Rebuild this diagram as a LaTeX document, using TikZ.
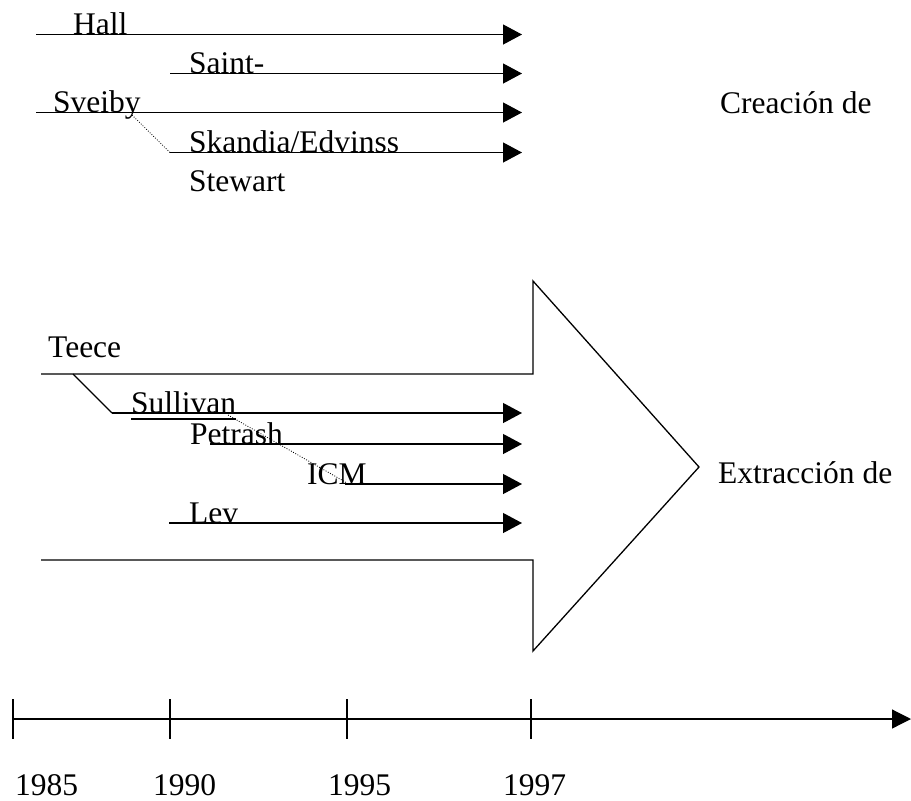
\documentclass[tikz,border=0pt]{standalone}
\usepackage{fontspec}
\setmainfont{Liberation Serif}
\usetikzlibrary{arrows.meta}
\begin{document}
\begin{tikzpicture}[x=1pt,y=-1pt,
  lbl/.style={anchor=base west,inner sep=0pt,font=\fontsize{31.5}{36}\selectfont},
  tl/.style={line width=1.2pt},
  tarrow/.style={line width=1.2pt,-{Triangle[length=19pt,width=20pt]}},
  dots/.style={line width=0.8pt,dash pattern=on 0.9pt off 1.6pt},
  bigarrow/.style={line width=1.3pt,line join=miter}]
\useasboundingbox (0,0) rectangle (911,801);
% top group
\node[lbl] (hall) at (73,34.5) {Hall};
\node[lbl] (saint) at (189,73.5) {Saint-};
\node[lbl] (sveiby) at (53,112.5) {Sveiby};
\node[lbl] (skandia) at (189,152.5) {Skandia/Edvinss};
\node[lbl] (stewart) at (189,191) {Stewart};
\node[lbl] (creacion) at (720,113) {Creación de};
\coordinate (h0) at (36,34.5);   \coordinate (h1) at (522,34.5);
\coordinate (s0) at (170,73.5);  \coordinate (s1) at (522,73.5);
\coordinate (v0) at (36,112.5);  \coordinate (v1) at (522,112.5);
\coordinate (k0) at (170,152.5); \coordinate (k1) at (522,152.5);
\coordinate (vd) at (132,115);
\draw[tarrow] (h0) -- (h1);
\draw[tarrow] (s0) -- (s1);
\draw[tarrow] (v0) -- (v1);
\draw[tarrow] (k0) -- (k1);
\draw[dots] (vd) -- (k0);
% big arrow
\coordinate (a1) at (41,374);
\coordinate (a2) at (533,374);
\coordinate (a3) at (533,281);
\coordinate (a4) at (699,467);
\coordinate (a5) at (533,651);
\coordinate (a6) at (533,560);
\coordinate (a7) at (41,560);
\draw[bigarrow] (a1) -- (a2) -- (a3) -- (a4) -- (a5) -- (a6) -- (a7);
\node[lbl] (teece) at (48,357) {Teece};
\node[lbl] (sullivan) at (131,413) {Sullivan};
\node[lbl] (petrash) at (190,444) {Petrash};
\node[lbl] (icm) at (307,484) {ICM};
\node[lbl] (lev) at (189,523) {Lev};
\node[lbl] (extraccion) at (718,483) {Extracción de};
\coordinate (t0) at (73,374);
\coordinate (t1) at (112,413);
\coordinate (u1) at (522,413);
\coordinate (p0) at (210,444); \coordinate (p1) at (522,444);
\coordinate (i0) at (345,484); \coordinate (i1) at (522,484);
\coordinate (l0) at (169,523); \coordinate (l1) at (522,523);
\coordinate (sd) at (228,415);
\coordinate (id) at (347,483);
\draw[tl] (t0) -- (t1);
\draw[tarrow] (t1) -- (u1);
\draw[tarrow] (p0) -- (p1);
\draw[tarrow] (i0) -- (i1);
\draw[tarrow] (l0) -- (l1);
\draw[line width=2pt] ([yshift=-6pt]sullivan.base west) -- ([yshift=-6pt]sullivan.base east);
\draw[dots] (sd) -- (id);
% axis
\coordinate (x0) at (13,719);
\coordinate (x1) at (911,719);
\draw[line width=1.2pt,-{Triangle[length=19pt,width=19pt]}] (x0) -- (x1);
\foreach \n/\x in {t85/13,t90/170,t95/347,t97/531}{
  \coordinate (\n a) at (\x,699);
  \coordinate (\n b) at (\x,739);
  \draw[tl] (\n a) -- (\n b);
}
\node[lbl] (y85) at (15,795) {1985};
\node[lbl] (y90) at (153,795) {1990};
\node[lbl] (y95) at (328,795) {1995};
\node[lbl] (y97) at (503,795) {1997};
\end{tikzpicture}
\end{document}
